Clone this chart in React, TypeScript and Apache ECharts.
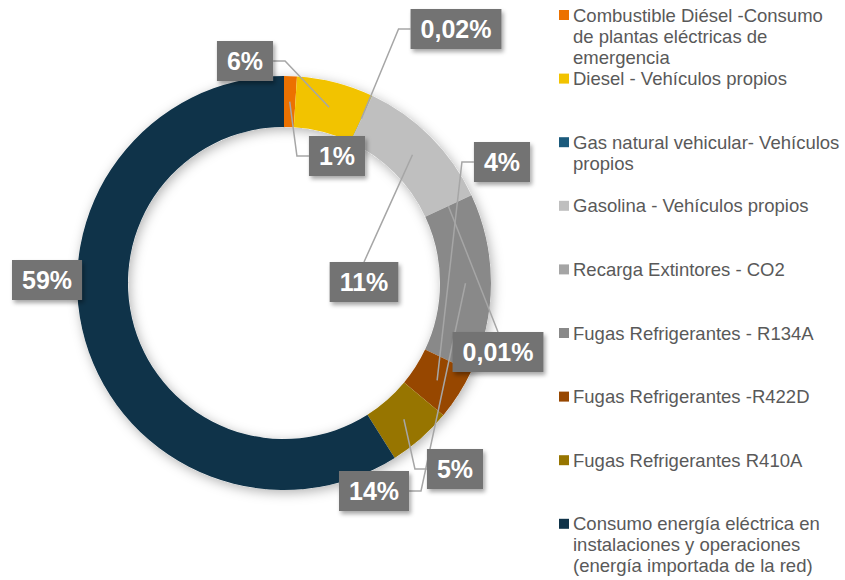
import React, { useEffect, useRef } from "react";
import * as echarts from "echarts";

const categories = [
  "Combustible Diésel -Consumo de plantas eléctricas de emergencia",
  "Diesel - Vehículos propios",
  "Gas natural vehicular- Vehículos propios",
  "Gasolina - Vehículos propios",
  "Recarga Extintores - CO2",
  "Fugas Refrigerantes - R134A",
  "Fugas Refrigerantes -R422D",
  "Fugas Refrigerantes R410A",
  "Consumo energía eléctrica en instalaciones y operaciones (energía importada de la red)",
];

const legendLines = [
  ["Combustible Diésel -Consumo", "de plantas eléctricas de", "emergencia"],
  ["Diesel - Vehículos propios"],
  ["Gas natural vehicular- Vehículos", "propios"],
  ["Gasolina - Vehículos propios"],
  ["Recarga Extintores - CO2"],
  ["Fugas Refrigerantes - R134A"],
  ["Fugas Refrigerantes -R422D"],
  ["Fugas Refrigerantes R410A"],
  ["Consumo energía eléctrica en", "instalaciones y operaciones", "(energía importada de la red)"],
];

const values = [1, 6, 0.02, 11, 0.01, 14, 4, 5, 59];

const colors = [
  "#EC7100",
  "#F2C300",
  "#1B5A7C",
  "#BFBFBF",
  "#A5A5A5",
  "#898989",
  "#974700",
  "#977500",
  "#0F3349",
];

// label box centres (layout) and where the leader line attaches
const labelCenters: [number, number][] = [
  [337, 156],
  [245, 61],
  [456, 29],
  [364, 282],
  [498, 352],
  [374, 491],
  [502, 162],
  [455, 469],
  [47, 280],
];
const labelSides = ["l", "r", "l", "t", "t", "r", "l", "l", "n"];

const CX = 284;
const CY = 283;
const R_OUT = 207;
const R_IN = 156;
const FONT = "'Liberation Sans', Arial, sans-serif";

function fmt(v: number) {
  if (v >= 1) return Math.round(v) + "%";
  return v.toFixed(2).replace(".", ",") + "%";
}

export default function App() {
  const ref = useRef<HTMLDivElement>(null);

  useEffect(() => {
    if (!ref.current) return;
    const chart = echarts.init(ref.current, undefined, { renderer: "svg" });

    const total = values.reduce((a, b) => a + b, 0);
    const rMid = (R_OUT + R_IN) / 2;
    let cum = 0;
    const anchors = values.map((v) => {
      const th = ((cum + v / 2) / total) * Math.PI * 2;
      cum += v;
      return [CX + rMid * Math.sin(th), CY - rMid * Math.cos(th)];
    });

    const legendTop = 15;
    const legendStep = 63.6;
    const graphic: any[] = [
      {
        type: "ring",
        z: 0,
        silent: true,
        shape: { cx: CX, cy: CY, r: R_OUT, r0: R_IN },
        style: {
          fill: "#ffffff",
          shadowBlur: 12,
          shadowColor: "rgba(0,0,0,0.30)",
          shadowOffsetX: 2,
          shadowOffsetY: 3,
        },
      },
    ];
    legendLines.forEach((lines, i) => {
      const cy = legendTop + i * legendStep;
      graphic.push({
        type: "rect",
        shape: { x: 559, y: cy - 5, width: 10, height: 10 },
        style: { fill: colors[i] },
      });
      graphic.push({
        type: "text",
        x: 573,
        y: cy - 10.5,
        style: {
          text: lines.join("\n"),
          font: `18.5px ${FONT}`,
          fill: "#595959",
          lineHeight: 21,
          verticalAlign: "top",
          align: "left",
        },
      });
    });

    const common = {
      type: "pie",
      center: [CX, CY],
      radius: [R_IN, R_OUT],
      startAngle: 90,
      clockwise: true,
      avoidLabelOverlap: false,
      minShowLabelAngle: 0,
      emphasis: { disabled: true },
      silent: true,
    };

    chart.setOption({
      animation: false,
      backgroundColor: "#ffffff",
      graphic,
      series: [
        {
          ...common,
          z: 2,
          itemStyle: { borderWidth: 0 },
          label: { show: false },
          labelLine: { show: false },
          data: categories.map((name, i) => ({
            name,
            value: values[i],
            itemStyle: { color: colors[i] },
          })),
        },
        {
          ...common,
          z: 4,
          itemStyle: { borderWidth: 0, color: "rgba(0,0,0,0)" },
          label: {
            show: true,
            position: "outside",
            formatter: (p: any) => fmt(p.value),
            color: "#ffffff",
            fontWeight: "bold",
            fontSize: 25,
            lineHeight: 28,
            fontFamily: FONT,
            backgroundColor: "#737373",
            padding: [6, 10, 6, 10],
            shadowColor: "rgba(0,0,0,0.35)",
            shadowBlur: 4,
            shadowOffsetX: 2,
            shadowOffsetY: 3,
          },
          labelLine: {
            show: true,
            lineStyle: { color: "#A6A6A6", width: 1.5 },
          },
          labelLayout: (params: any) => {
            const i = params.dataIndex;
            const [lx, ly] = labelCenters[i];
            const w = params.labelRect.width;
            const h = params.labelRect.height;
            const a = anchors[i];
            const side = labelSides[i];
            let pts: number[][] | undefined;
            if (side === "l") {
              pts = [a, [lx - w / 2 - 12, ly], [lx - w / 2, ly]];
            } else if (side === "r") {
              pts = [a, [lx + w / 2 + 12, ly], [lx + w / 2, ly]];
            } else if (side === "t") {
              const end = [lx, ly - h / 2];
              pts = [a, [(a[0] + end[0]) / 2, (a[1] + end[1]) / 2], end];
            }
            const out: any = {
              x: lx,
              y: ly,
              align: "center",
              verticalAlign: "middle",
            };
            if (pts) out.labelLinePoints = pts;
            return out;
          },
          data: categories.map((name, i) => ({
            name,
            value: values[i],
            labelLine: { show: labelSides[i] !== "n" },
          })),
        },
      ],
    });

    return () => chart.dispose();
  }, []);

  return (
    <div
      ref={ref}
      style={{ position: "absolute", left: 0, top: 0, width: 845, height: 580 }}
    />
  );
}
